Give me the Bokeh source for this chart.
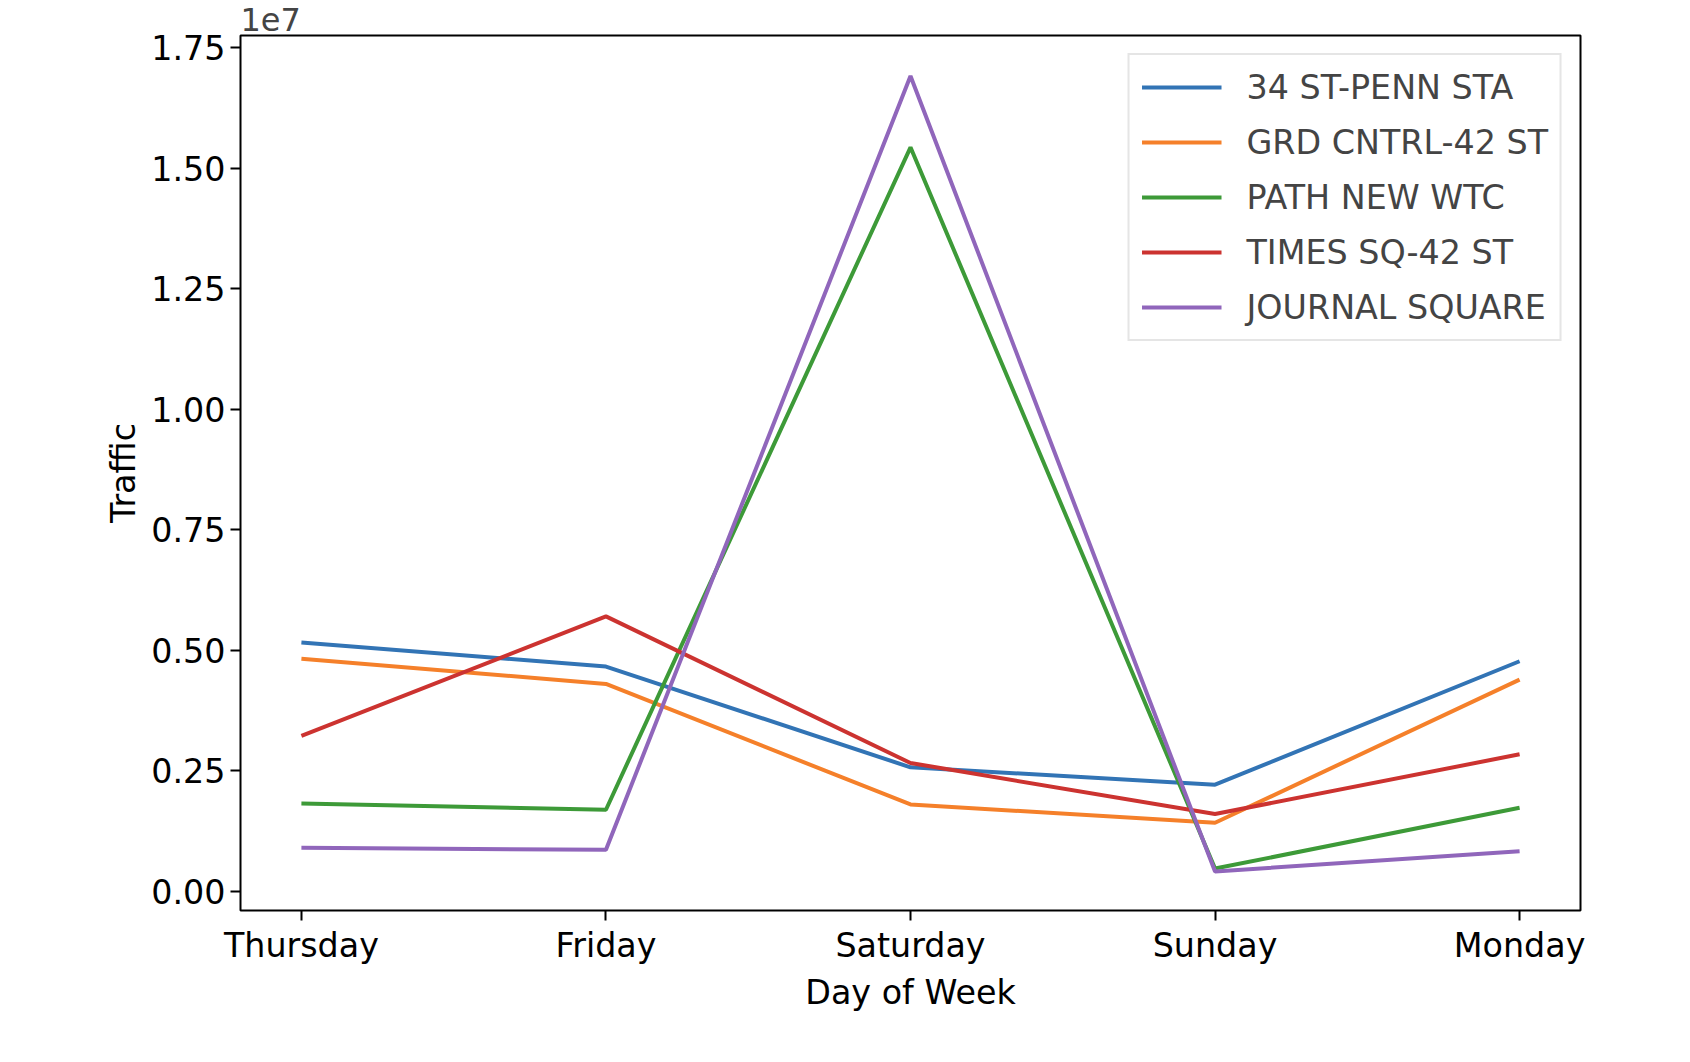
from bokeh.plotting import figure
from bokeh.models import FixedTicker, Range1d, Legend, LegendItem
from bokeh.embed import file_html
from bokeh.resources import INLINE

days = ["Thursday", "Friday", "Saturday", "Sunday", "Monday"]
penn = [5.16e6, 4.66e6, 2.57e6, 2.21e6, 4.77e6]
grd = [4.82e6, 4.30e6, 1.80e6, 1.42e6, 4.39e6]
path = [1.82e6, 1.69e6, 15.43e6, 0.47e6, 1.73e6]
times = [3.22e6, 5.70e6, 2.66e6, 1.60e6, 2.84e6]
journal = [0.90e6, 0.86e6, 16.91e6, 0.41e6, 0.83e6]

series = [
    ("34 ST-PENN STA", penn, "#3274b5"),
    ("GRD CNTRL-42 ST", grd, "#f5802a"),
    ("PATH NEW WTC", path, "#3d9a38"),
    ("TIMES SQ-42 ST", times, "#cc3330"),
    ("JOURNAL SQUARE", journal, "#9066bb"),
]

font = "DejaVu Sans"
p = figure(width=1660, height=1040, output_backend="svg", toolbar_location=None,
           x_range=Range1d(-0.2, 4.2), y_range=Range1d(-0.04, 1.775),
           min_border_left=240, min_border_right=80, min_border_top=10,
           min_border_bottom=130, title="1e7")
p.title.text_font = font
p.title.text_font_size = "24pt"
p.title.text_font_style = "normal"
p.title.align = "left"
p.title.offset = 0
p.grid.visible = False
p.outline_line_color = "black"
p.outline_line_width = 2

x = list(range(len(days)))
items = []
for name, vals, color in series:
    r = p.line(x, [v / 1e7 for v in vals], line_color=color, line_width=4)
    items.append(LegendItem(label=name, renderers=[r]))

ticks = [0, 0.25, 0.5, 0.75, 1.0, 1.25, 1.5, 1.75]
p.xaxis.ticker = FixedTicker(ticks=x)
p.xaxis.major_label_overrides = {i: d for i, d in enumerate(days)}
p.yaxis.ticker = FixedTicker(ticks=ticks)
p.yaxis.major_label_overrides = {t: f"{t:.2f}" for t in ticks}
for ax in (p.xaxis, p.yaxis):
    ax.major_label_text_font = font
    ax.major_label_text_font_size = "25pt"
    ax.major_label_text_color = "black"
    ax.axis_label_text_font = font
    ax.axis_label_text_font_size = "25pt"
    ax.axis_label_text_font_style = "normal"
    ax.axis_label_text_color = "black"
    ax.axis_line_color = None
    ax.major_tick_line_color = "black"
    ax.major_tick_line_width = 2
    ax.major_tick_out = 10
    ax.major_tick_in = 0
    ax.minor_tick_line_color = None
p.xaxis.axis_label = "Day of Week"
p.yaxis.axis_label = "Traffic"

legend = Legend(items=items, location="top_right", label_text_font=font,
                label_text_font_size="25pt", glyph_width=80, glyph_height=40,
                label_standoff=25, spacing=15, border_line_color="#cccccc",
                border_line_width=2, background_fill_alpha=0.95, margin=18, padding=12)
p.add_layout(legend)

open("out.html", "w").write(file_html(p, INLINE))
